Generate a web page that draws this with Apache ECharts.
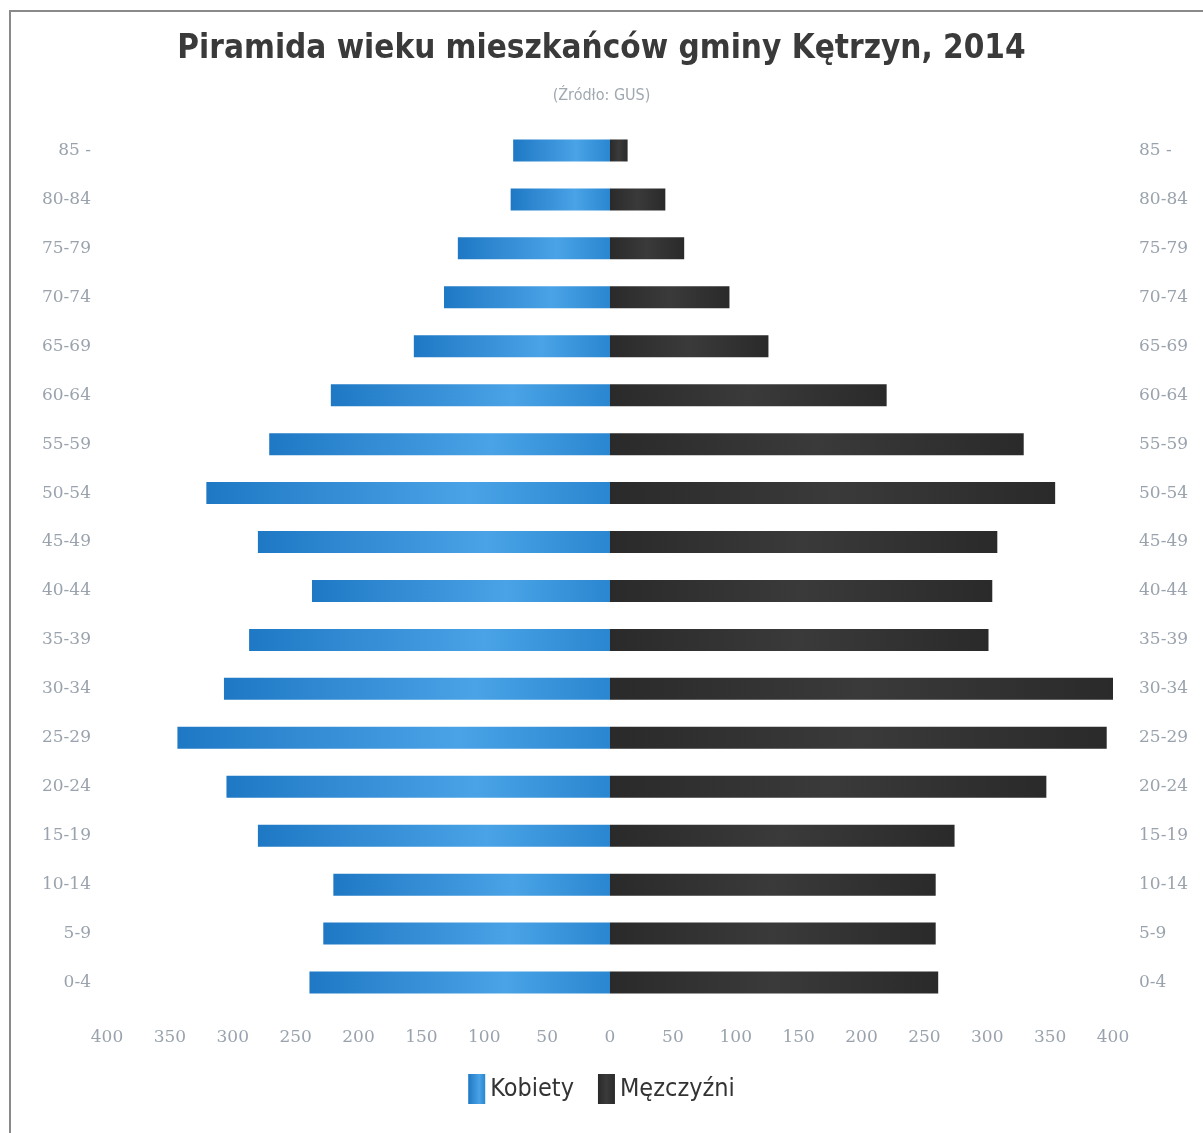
<!DOCTYPE html>
<html>
<head>
<meta charset="utf-8">
<script src="https://cdn.jsdelivr.net/npm/echarts@6/dist/echarts.min.js"></script>
<style>
  html, body { margin: 0; padding: 0; background: #fff; }
  #chart-container { width: 1203px; height: 1133px; }
</style>
</head>
<body>
<div id="chart-container"></div>
<script>
// grupy wieku, od najstarszej (góra) do najmłodszej (dół)
const ageGroups = ['85 -', '80-84', '75-79', '70-74', '65-69', '60-64', '55-59', '50-54', '45-49',
  '40-44', '35-39', '30-34', '25-29', '20-24', '15-19', '10-14', '5-9', '0-4'];
const kobiety = [77, 79, 121, 132, 156, 222, 271, 321, 280, 237, 287, 307, 344, 305, 280, 220, 228, 239];
const mezczyzni = [14, 44, 59, 95, 126, 220, 329, 354, 308, 304, 301, 400, 395, 347, 274, 259, 259, 261];

const start = () => {
  const chartDom = document.getElementById('chart-container');
  const myChart = echarts.init(chartDom, null, { renderer: 'canvas' });

  const blue = new echarts.graphic.LinearGradient(0, 0, 1, 0, [
    { offset: 0, color: '#1f78c4' },
    { offset: 0.65, color: '#4aa3e6' },
    { offset: 1, color: '#2a86d0' }
  ]);
  const dark = new echarts.graphic.LinearGradient(0, 0, 1, 0, [
    { offset: 0, color: '#2a2a2a' },
    { offset: 0.5, color: '#3a3a3a' },
    { offset: 1, color: '#2a2a2a' }
  ]);

  const labelStyle = {
    color: '#9aa3ad',
    fontFamily: 'DejaVu Serif',
    fontSize: 17
  };

  const option = {
    backgroundColor: '#fff',
    animation: false,
    graphic: [{
      type: 'rect',
      shape: { x: 10, y: 11, width: 1400, height: 1400 },
      style: { fill: 'none', stroke: '#8a8a8a', lineWidth: 2 },
      silent: true
    }],
    title: {
      text: 'Piramida wieku mieszkańców gminy Kętrzyn, 2014',
      subtext: '(Źródło: GUS)',
      left: 'center',
      top: 28,
      itemGap: 22,
      textStyle: { fontFamily: 'DejaVu Sans Condensed', fontSize: 33, fontWeight: 'bold', color: '#3a3a3a' },
      subtextStyle: { fontFamily: 'DejaVu Sans Condensed', fontSize: 16, color: '#a0a8b0' }
    },
    legend: {
      bottom: 24,
      left: 'center',
      icon: 'rect',
      itemWidth: 17,
      itemHeight: 30,
      itemGap: 24,
      textStyle: { fontFamily: 'DejaVu Sans Condensed', fontSize: 25, color: '#333' },
      data: ['Kobiety', 'Męzczyźni']
    },
    grid: { left: 107, right: 90, top: 126, bottom: 126 },
    xAxis: {
      type: 'value',
      min: -400,
      max: 400,
      interval: 50,
      axisLine: { show: false },
      axisTick: { show: false },
      splitLine: { show: false },
      axisLabel: Object.assign({ margin: 22, formatter: v => String(Math.abs(v)) }, labelStyle)
    },
    yAxis: [{
      type: 'category',
      data: ageGroups,
      inverse: true,
      position: 'left',
      axisLine: { show: false },
      axisTick: { show: false },
      axisLabel: Object.assign({ margin: 16 }, labelStyle)
    }, {
      type: 'category',
      data: ageGroups,
      inverse: true,
      position: 'right',
      axisLine: { show: false },
      axisTick: { show: false },
      axisLabel: Object.assign({ margin: 26, align: 'left' }, labelStyle)
    }],
    series: [{
      name: 'Kobiety',
      type: 'bar',
      barWidth: 22,
      barGap: '-100%',
      itemStyle: { color: blue },
      data: kobiety.map(v => -v)
    }, {
      name: 'Męzczyźni',
      type: 'bar',
      barWidth: 22,
      barGap: '-100%',
      itemStyle: { color: dark },
      data: mezczyzni
    }]
  };
  myChart.setOption(option);
};

start();
</script>
</body>
</html>
